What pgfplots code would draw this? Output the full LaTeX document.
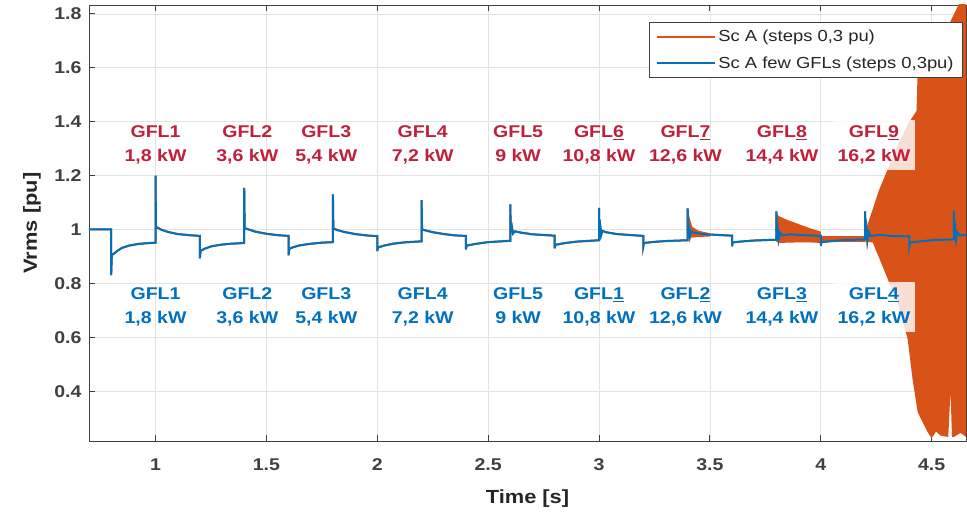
\documentclass[border=0pt]{standalone}
\usepackage{fontspec}
\setmainfont{Liberation Sans}[FakeStretch=1.15]
\usepackage{pgfplots}
\pgfplotsset{compat=1.18}
\usepackage{pgfplotstable}
\definecolor{mOrange}{HTML}{D95319}
\definecolor{mBlue}{HTML}{0072BD}
\definecolor{lblRed}{HTML}{C0203A}
\definecolor{lblBlue}{HTML}{0070C0}
\definecolor{axcol}{HTML}{404040}

\pgfplotstableread{
x y
0.700 1.000
0.800 1.000
0.800 0.831
0.803 0.905
0.815 0.912
0.830 0.922
0.850 0.932
0.880 0.940
0.920 0.946
0.960 0.949
1.000 0.951
1.000 1.200
1.002 1.010
1.010 1.006
1.030 0.998
1.060 0.990
1.100 0.983
1.150 0.979
1.200 0.976
1.200 0.893
1.203 0.920
1.220 0.928
1.250 0.937
1.290 0.943
1.340 0.947
1.400 0.950
1.400 1.154
1.402 1.005
1.420 1.000
1.450 0.992
1.500 0.984
1.550 0.979
1.600 0.976
1.600 0.904
1.603 0.928
1.620 0.934
1.650 0.941
1.700 0.947
1.750 0.951
1.800 0.953
1.800 1.130
1.802 1.003
1.820 0.998
1.850 0.991
1.900 0.983
1.950 0.978
2.000 0.975
2.000 0.920
2.003 0.933
2.030 0.940
2.070 0.947
2.120 0.952
2.200 0.956
2.200 1.109
2.202 1.000
2.220 0.996
2.250 0.990
2.300 0.983
2.350 0.978
2.400 0.976
2.400 0.926
2.403 0.940
2.440 0.946
2.500 0.953
2.600 0.958
2.600 1.093
2.602 0.995
2.607 1.010
2.612 0.985
2.620 0.993
2.650 0.988
2.700 0.982
2.800 0.977
2.800 0.930
2.803 0.943
2.850 0.950
2.900 0.955
3.000 0.960
3.000 1.080
3.002 0.990
3.006 1.010
3.010 0.980
3.015 0.995
3.030 0.990
3.080 0.983
3.200 0.976
3.200 0.938
3.203 0.950
3.250 0.954
3.300 0.957
3.400 0.960
3.400 1.078
3.402 0.990
3.406 1.005
3.410 0.975
3.415 0.995
3.430 0.988
3.480 0.982
3.600 0.977
3.600 0.938
3.603 0.952
3.650 0.956
3.700 0.959
3.800 0.962
3.800 1.067
3.802 0.985
3.806 1.000
3.810 0.965
3.815 0.990
3.825 0.978
3.860 0.982
3.920 0.979
4.000 0.976
4.000 0.940
4.003 0.953
4.050 0.957
4.100 0.960
4.200 0.963
4.200 1.067
4.202 0.985
4.206 1.005
4.210 0.960
4.215 0.992
4.225 0.975
4.260 0.980
4.320 0.976
4.400 0.974
4.400 0.940
4.403 0.952
4.450 0.956
4.500 0.960
4.600 0.963
4.600 1.070
4.602 0.985
4.606 1.005
4.610 0.962
4.615 0.990
4.625 0.978
4.655 0.980
}\trace

\begin{document}
\begin{tikzpicture}
\path[use as bounding box] (-89pt,-71pt) rectangle (878pt,441pt);
\begin{axis}[
  at={(0pt,0pt)}, anchor=south west,
  scale only axis, width=877pt, height=436pt,
  xmin=0.70, xmax=4.655, ymin=0.215, ymax=1.833,
  xtick={1,1.5,2,2.5,3,3.5,4,4.5},
  xticklabels={1,1.5,2,2.5,3,3.5,4,4.5},
  ytick={0.4,0.6,0.8,1,1.2,1.4,1.6,1.8},
  yticklabels={0.4,0.6,0.8,1,1.2,1.4,1.6,1.8},
  /pgf/number format/assume math mode=true,
  grid=major,
  major grid style={color=black!11, line width=0.6pt},
  axis line style={axcol, line width=0.8pt},
  tick style={axcol, line width=0.8pt},
  tick align=inside, major tick length=6pt,
  ticklabel style={font=\bfseries\fontsize{17}{17}\selectfont, text=axcol},
  xticklabel style={yshift=-14pt},
  yticklabel style={xshift=-4pt},
  xlabel={Time [s]}, ylabel={Vrms [pu]},
  label style={font=\bfseries\fontsize{19}{19}\selectfont, text=black!85},
  xlabel style={at={(axis description cs:0.5,-0.133)}, anchor=center},
  ylabel style={at={(axis description cs:-0.065,0.5)}, anchor=center},
  legend style={at={(0.9966,0.961)}, anchor=north east,
    font=\fontsize{16}{18}\selectfont, draw=axcol, line width=0.8pt, text=black!85,
    cells={anchor=west}, inner xsep=7pt, inner ysep=6pt, row sep=9pt},
  legend image code/.code={\draw[#1, line width=2pt] (0pt,0pt) -- (58pt,0pt);},
]
\addplot[mOrange, line width=2pt] table {\trace};
\addlegendentry{Sc A (steps 0,3 pu)}

\addplot[fill=mOrange, draw=none, forget plot] coordinates {
(3.400,1.070) (3.420,1.010) (3.450,0.995) (3.500,0.986)
(3.500,0.974) (3.450,0.972) (3.420,0.970) (3.400,0.968)} -- cycle;

\addplot[fill=mOrange, draw=none, forget plot] coordinates {
(3.800,1.065) (3.810,1.050) (3.850,1.035) (3.900,1.020) (3.950,1.005) (4.000,0.992)
(4.000,0.950) (3.950,0.952) (3.900,0.952) (3.850,0.951) (3.810,0.950) (3.800,0.955)} -- cycle;

\addplot[fill=mOrange, draw=none, forget plot] coordinates {
(4.000,0.975) (4.200,0.975) (4.200,0.955) (4.000,0.955)} -- cycle;

\addplot[fill=mOrange, draw=none, forget plot] coordinates {
(4.200,0.990) (4.234,1.074) (4.260,1.140) (4.300,1.220) (4.350,1.320) (4.400,1.400)
(4.432,1.440) (4.436,1.560) (4.500,1.650) (4.560,1.730) (4.625,1.840) (4.700,1.950)
(4.700,0.230) (4.655,0.230) (4.630,0.245) (4.600,0.230) (4.592,0.230) (4.585,0.400)
(4.575,0.230) (4.540,0.235) (4.520,0.250) (4.500,0.225) (4.482,0.248) (4.437,0.322)
(4.414,0.444) (4.392,0.593) (4.350,0.720) (4.310,0.800) (4.266,0.889) (4.234,0.952)
(4.200,0.955)} -- cycle;

\addplot[mBlue, line width=2pt] table {\trace};
\addlegendentry{Sc A few GFLs (steps 0,3pu)}

% red labels
\begin{scope}[every node/.style={text=lblRed, font=\bfseries\fontsize{17}{24}\selectfont, align=center}]
\node at (axis cs:1.000,1.314) {\strut GFL1\\\strut 1,8 kW};
\node at (axis cs:1.414,1.314) {\strut GFL2\\\strut 3,6 kW};
\node at (axis cs:1.770,1.314) {\strut GFL3\\\strut 5,4 kW};
\node at (axis cs:2.205,1.314) {\strut GFL4\\\strut 7,2 kW};
\node at (axis cs:2.635,1.314) {\strut GFL5\\\strut 9 kW};
\node at (axis cs:3.000,1.314) {\strut GFL\underline{6}\\\strut 10,8 kW};
\node at (axis cs:3.390,1.314) {\strut GFL\underline{7}\\\strut 12,6 kW};
\node at (axis cs:3.825,1.314) {\strut GFL\underline{8}\\\strut 14,4 kW};
\node[fill=white, fill opacity=0.82, text opacity=1, inner xsep=5pt, inner ysep=1pt] at (axis cs:4.240,1.314) {\strut GFL\underline{9}\\\strut 16,2 kW};
\end{scope}
% blue labels
\begin{scope}[every node/.style={text=lblBlue, font=\bfseries\fontsize{17}{24}\selectfont, align=center}]
\node at (axis cs:1.000,0.714) {\strut GFL1\\\strut 1,8 kW};
\node at (axis cs:1.414,0.714) {\strut GFL2\\\strut 3,6 kW};
\node at (axis cs:1.770,0.714) {\strut GFL3\\\strut 5,4 kW};
\node at (axis cs:2.205,0.714) {\strut GFL4\\\strut 7,2 kW};
\node at (axis cs:2.635,0.714) {\strut GFL5\\\strut 9 kW};
\node at (axis cs:3.000,0.714) {\strut GFL\underline{1}\\\strut 10,8 kW};
\node at (axis cs:3.390,0.714) {\strut GFL\underline{2}\\\strut 12,6 kW};
\node at (axis cs:3.825,0.714) {\strut GFL\underline{3}\\\strut 14,4 kW};
\node[fill=white, fill opacity=0.82, text opacity=1, inner xsep=5pt, inner ysep=1pt] at (axis cs:4.240,0.714) {\strut GFL\underline{4}\\\strut 16,2 kW};
\end{scope}
\end{axis}
\end{tikzpicture}
\end{document}
